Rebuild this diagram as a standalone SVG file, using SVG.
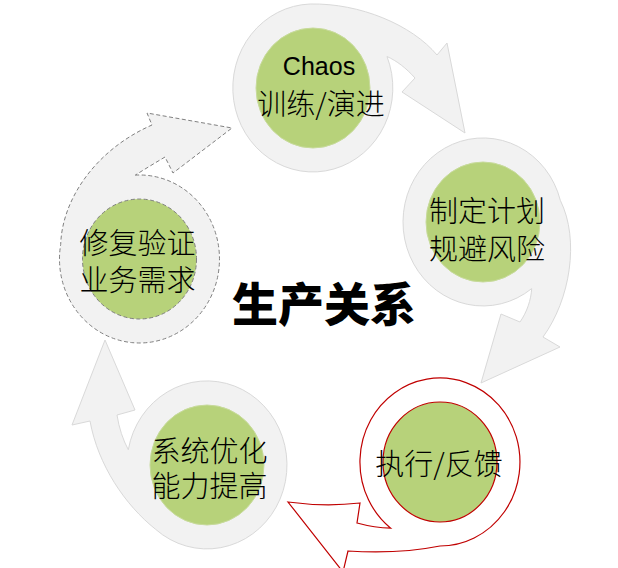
<svg xmlns="http://www.w3.org/2000/svg" width="618" height="568" viewBox="0 0 618 568">
<style>
.ring{fill:#f2f2f2;stroke:#d9d9d9;stroke-width:1}
.ring-red{fill:#ffffff;stroke:#c00000;stroke-width:1.2}
.ring-dash{fill:#f2f2f2;stroke:#808080;stroke-width:1;stroke-dasharray:4 2.5}
.core{fill:#b7d27a;stroke:#c8db9c;stroke-width:1}
.core-red{fill:#b7d27a;stroke:#c00000;stroke-width:1.2}
.core-dash{fill:#b7d27a;stroke:#808080;stroke-width:1;stroke-dasharray:4 2.5}
.lbl{font-family:"Noto Sans CJK SC","Noto Sans",sans-serif;font-size:29px;font-weight:300;fill:#000;text-anchor:middle;dominant-baseline:central}
.lat{font-family:"Liberation Sans",Arial,sans-serif;font-size:25px;fill:#000;text-anchor:middle}
.title{font-family:"Noto Sans CJK SC",sans-serif;font-size:46px;font-weight:900;fill:#000;text-anchor:middle;dominant-baseline:central}
</style>
<rect width="618" height="568" fill="#ffffff"/>
<g id="connectors">
<path id="arrow-chaos" class="ring" d="M387,56.5 A80,84 0 1 1 310.2,4 C360,3 412,25 437,55 L447,43 L465,133 L402,92 L415,78 C406,68 397,61 387,56.5 Z"/>
<path id="arrow-plan" class="ring" d="M531.7,288.6 A80,84 0 1 1 560.3,200.3 C580,240 570,300 543,337 L560,347 L481,383 L501,314 L520,322 C527,312 531,300 531.7,288.6 Z"/>
<path id="arrow-exec" class="ring-red" d="M390.7,528.2 A80,84 0 1 1 440,546 C410,552 380,553 348,551 L343,572 L288,502 Q325,507 360,503 L357,523 C368,526 380,528 390.7,528.2 Z"/>
<path id="arrow-opt" class="ring" d="M128.3,449.7 A80,84 0 1 1 155.6,529.3 C125,505 98,465 90,421 L72,425 L105,340 L135,410 L117,415 C119,428 123,440 128.3,449.7 Z"/>
<path id="arrow-fix" class="ring-dash" d="M135.3,175.1 A80,84 0 1 1 60.7,244.4 C62,200 95,150 152,125 L147,113 L232,128 L173,173 L165,157 C155,163 145,169 135.3,175.1 Z"/>
</g>
<g id="node-chaos">
<ellipse class="core" cx="313" cy="88" rx="57" ry="60"/>
<text class="lat" x="319" y="75">Chaos</text>
<text class="lbl" x="321" y="101.5">训练/演进</text>
</g>
<g id="node-plan">
<ellipse class="core" cx="483" cy="222" rx="57" ry="60"/>
<text class="lbl" x="487" y="209">制定计划<tspan x="487" dy="37.5">规避风险</tspan></text>
</g>
<g id="node-exec">
<ellipse class="core-red" cx="440" cy="462" rx="57" ry="60"/>
<text class="lbl" x="439" y="461.5">执行/反馈</text>
</g>
<g id="node-opt">
<ellipse class="core" cx="207" cy="465" rx="57" ry="60"/>
<text class="lbl" x="209.5" y="449">系统优化<tspan x="209.5" dy="34.5">能力提高</tspan></text>
</g>
<g id="node-fix">
<ellipse class="core-dash" cx="139.5" cy="259" rx="57" ry="60"/>
<text class="lbl" x="137.5" y="241">修复验证<tspan x="137.5" dy="36.5">业务需求</tspan></text>
</g>
<g id="center">
<text class="title" x="324" y="301">生产关系</text>
</g>
</svg>
